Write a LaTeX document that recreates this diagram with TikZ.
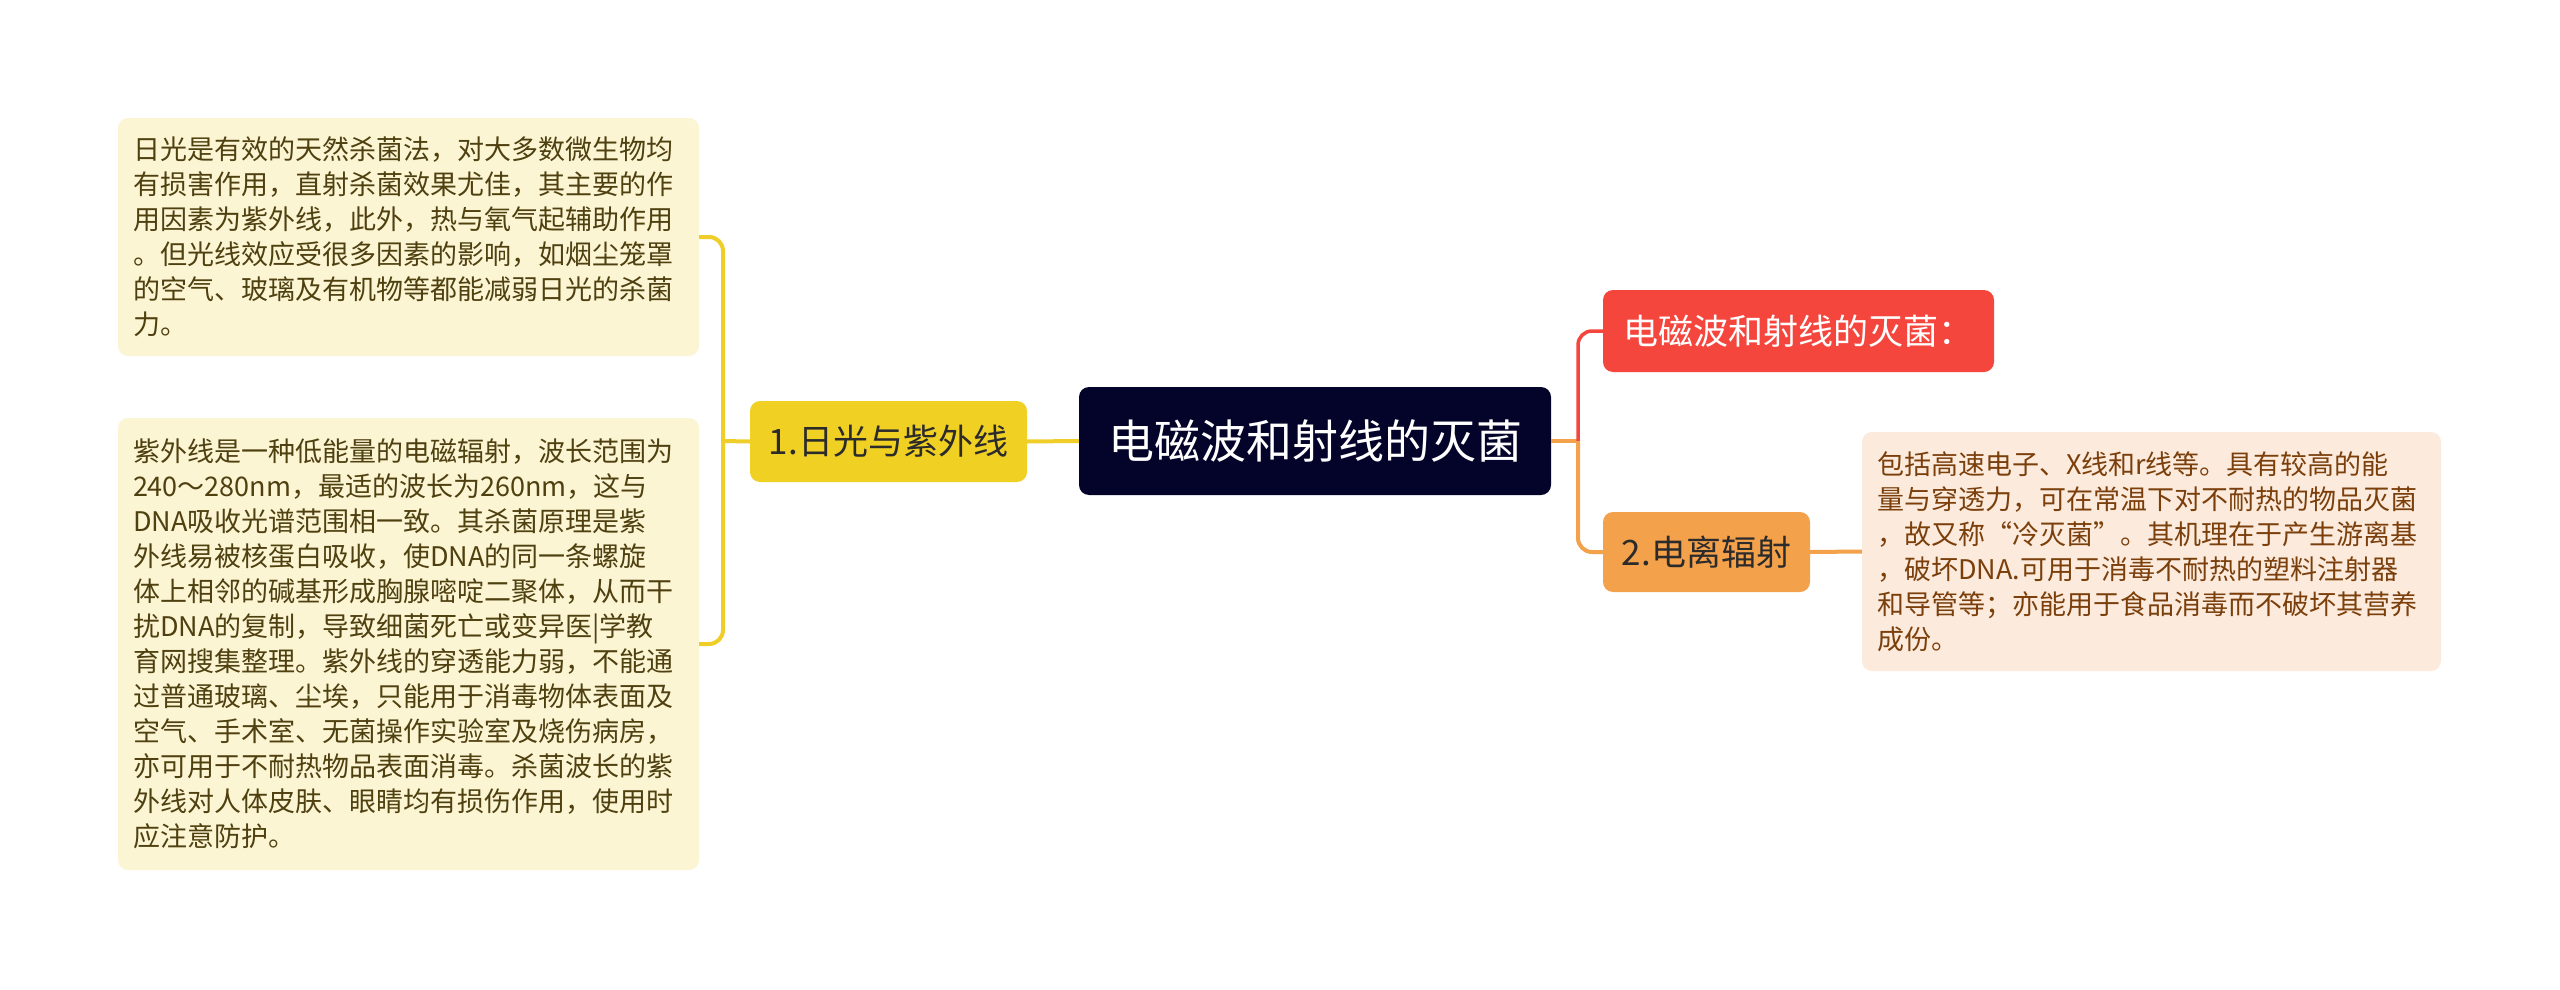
\documentclass[tikz,border=0pt]{standalone}
\usepackage{fontspec}
\setmainfont{Noto Sans CJK SC}
\definecolor{ylbox}{HTML}{FCF5D4}
\definecolor{yltext}{HTML}{4F4010}
\definecolor{ylnode}{HTML}{F1D024}
\definecolor{ylline}{HTML}{EFCE2A}
\definecolor{navy}{HTML}{04042A}
\definecolor{rednode}{HTML}{F5463E}
\definecolor{ornode}{HTML}{F4A14B}
\definecolor{orbox}{HTML}{FCEBDC}
\definecolor{ortext}{HTML}{7B3F0C}
\definecolor{darktxt}{HTML}{2B2B2B}
\begin{document}
\begin{tikzpicture}[x=1pt,y=-1pt,
  leaf/.style={rounded corners=10pt, align=left, inner xsep=15pt, inner ysep=0pt,
    font=\fontsize{27}{35}\selectfont, anchor=center},
  topic/.style={rounded corners=10pt, align=center, inner sep=0pt, anchor=center,
    font=\fontsize{35}{40}\selectfont},
  yline/.style={draw=ylline, line width=4pt},
  rline/.style={draw=rednode, line width=3.5pt},
  oline/.style={draw=ornode, line width=4pt}]
\useasboundingbox[fill=white] (0,0) rectangle (2560,990);

% left leaves
\node[leaf, fill=ylbox, text=yltext, text width=551pt, minimum height=238pt] (b1) at (408.5,237)
{日光是有效的天然杀菌法，对大多数微生物均\\
有损害作用，直射杀菌效果尤佳，其主要的作\\
用因素为紫外线，此外，热与氧气起辅助作用\\
。但光线效应受很多因素的影响，如烟尘笼罩\\
的空气、玻璃及有机物等都能减弱日光的杀菌\\
力。};

\node[leaf, fill=ylbox, text=yltext, text width=551pt, minimum height=452pt] (b2) at (408.5,644)
{紫外线是一种低能量的电磁辐射，波长范围为\\
240～280nm，最适的波长为260nm，这与\\
DNA吸收光谱范围相一致。其杀菌原理是紫\\
外线易被核蛋白吸收，使DNA的同一条螺旋\\
体上相邻的碱基形成胸腺嘧啶二聚体，从而干\\
扰DNA的复制，导致细菌死亡或变异医|学教\\
育网搜集整理。紫外线的穿透能力弱，不能通\\
过普通玻璃、尘埃，只能用于消毒物体表面及\\
空气、手术室、无菌操作实验室及烧伤病房，\\
亦可用于不耐热物品表面消毒。杀菌波长的紫\\
外线对人体皮肤、眼睛均有损伤作用，使用时\\
应注意防护。};

% main topics
\node[topic, fill=ylnode, text=darktxt, minimum width=277pt, minimum height=81pt] (y) at (888.5,441.5) {1.日光与紫外线};
\node[topic, fill=navy, text=white, minimum width=472pt, minimum height=108pt,
  font=\fontsize{46}{50}\selectfont] (c) at (1315,441) {电磁波和射线的灭菌};
\node[topic, fill=rednode, text=white, minimum width=391pt, minimum height=82pt] (r) at (1798.5,331) {电磁波和射线的灭菌：};
\node[topic, fill=ornode, text=darktxt, minimum width=207pt, minimum height=80pt] (o) at (1706.5,552) {2.电离辐射};

% right leaf
\node[leaf, fill=orbox, text=ortext, text width=549pt, minimum height=239pt] (rb) at (2151.5,551.5)
{包括高速电子、X线和r线等。具有较高的能\\
量与穿透力，可在常温下对不耐热的物品灭菌\\
，故又称“冷灭菌”。其机理在于产生游离基\\
，破坏DNA.可用于消毒不耐热的塑料注射器\\
和导管等；亦能用于食品消毒而不破坏其营养\\
成份。};

% connectors
\coordinate (jL) at (723,441);
\coordinate (jR) at (1578,441);
\draw[yline] (c.west) -- (y.east);
\draw[yline] (y.west) -- (jL);
\draw[yline, rounded corners=14pt] (b1.east) -| (jL) |- (b2.east);
\draw[oline] (c.east) -- (jR);
\draw[rline, rounded corners=14pt] (jR) |- (r.west);
\draw[oline, rounded corners=14pt] (jR) |- (o.west);
\draw[oline] (o.east) -- (rb.west);
\end{tikzpicture}
\end{document}
